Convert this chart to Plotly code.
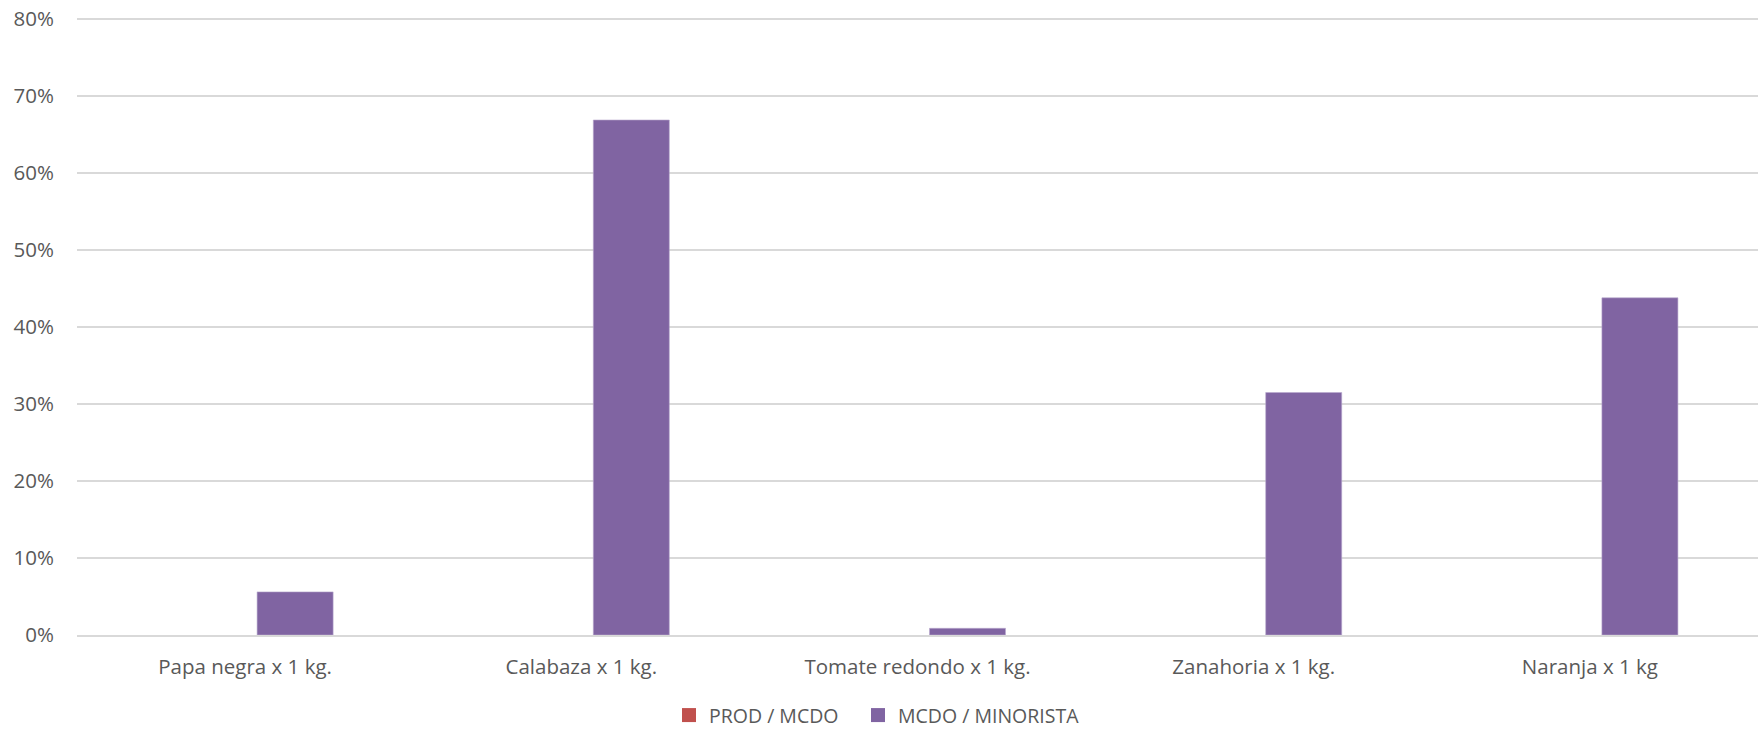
import plotly.graph_objects as go

categories = ["Papa negra x 1 kg.", "Calabaza x 1 kg.", "Tomate redondo x 1 kg.",
              "Zanahoria x 1 kg.", "Naranja x 1 kg"]
prod_mcdo = [0, 0, 0, 0, 0]
mcdo_minorista = [0.056, 0.669, 0.0087, 0.315, 0.438]
y_ticks = [0, 0.1, 0.2, 0.3, 0.4, 0.5, 0.6, 0.7, 0.8]
y_labels = ["0%", "10%", "20%", "30%", "40%", "50%", "60%", "70%", "80%"]
series_names = ["PROD / MCDO", "MCDO / MINORISTA"]
series_colors = ["#C0504D", "#8064A2"]

FONT = "Open Sans"
TXT = "#595959"
FS = 20.5
FL = 19.5

fig = go.Figure()
fig.add_trace(go.Bar(x=categories, y=prod_mcdo, name=series_names[0], showlegend=False,
                     marker=dict(color=series_colors[0], line=dict(width=0))))
fig.add_trace(go.Bar(x=categories, y=mcdo_minorista, name=series_names[1], showlegend=False,
                     marker=dict(color=series_colors[1], line=dict(color="#B9A9CF", width=0.6))))
# legend entries (square swatches), one legend box per entry
legend_ids = ["legend", "legend2"]
for nm, col, lg in zip(series_names, series_colors, legend_ids):
    fig.add_trace(go.Scatter(x=[None], y=[None], mode="markers", name=nm, legend=lg,
                             marker=dict(symbol="square", size=14, color=col)))

leg_common = dict(orientation="h", xanchor="left", xref="container",
                  y=0.02, yanchor="middle", yref="container",
                  font=dict(family=FONT, size=FL, color=TXT), itemwidth=30,
                  bgcolor="rgba(0,0,0,0)")

fig.update_layout(
    width=1760, height=730,
    paper_bgcolor="white", plot_bgcolor="white",
    margin=dict(l=77, r=2, t=18, b=95),
    barmode="group", bargap=0.405, bargroupgap=0.24,
    font=dict(family=FONT, size=FS, color=TXT),
    showlegend=True,
    legend=dict(x=669 / 1760, **leg_common),
    legend2=dict(x=858 / 1760, **leg_common),
)
fig.update_xaxes(showgrid=False, showline=True, linecolor="#D9D9D9", linewidth=1.5,
                 ticks="outside", ticklen=13, tickcolor="rgba(0,0,0,0)", automargin=False,
                 tickfont=dict(family=FONT, size=FS, color=TXT))
fig.update_yaxes(range=[0, 0.8015], tickvals=y_ticks, ticktext=y_labels,
                 showgrid=True, gridcolor="#D9D9D9", gridwidth=1.5,
                 zeroline=False, showline=False, automargin=False,
                 ticks="outside", ticklen=18, tickcolor="rgba(0,0,0,0)",
                 tickfont=dict(family=FONT, size=FS, color=TXT))

fig.write_html("out.html", config={"displayModeBar": False},
               post_script="document.body.style.margin='0';")
